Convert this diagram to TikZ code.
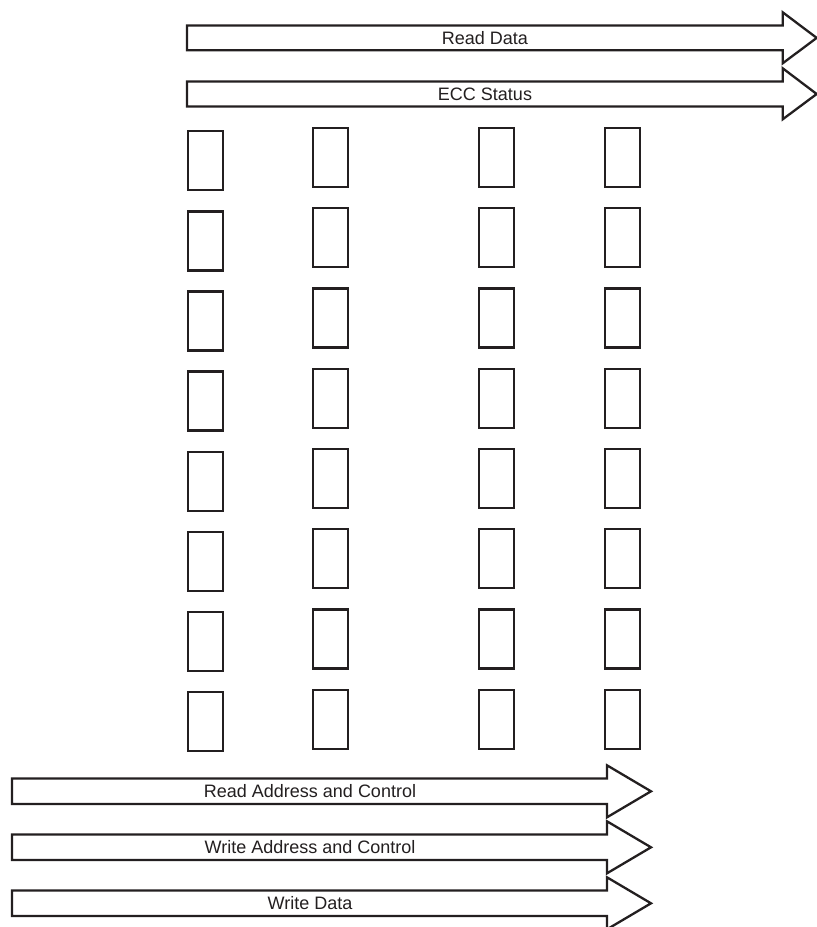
\documentclass[tikz,border=0pt]{standalone}
\usepackage{fontspec}
\setmainfont{Liberation Sans}
\definecolor{ink}{HTML}{231F20}
\begin{document}
\begin{tikzpicture}[x=1pt,y=-1pt,
  cell/.style={draw=ink,line width=2.3pt,minimum width=35pt,minimum height=59pt,inner sep=0pt,outer sep=0pt},
  bus/.style={draw=ink,line width=2.3pt,line join=miter,fill=white},
  buslabel/.style={font=\fontsize{18}{20}\selectfont,text=ink,inner sep=0pt}]
\useasboundingbox (0,0) rectangle (817,927);
% top buses
\draw[bus] (187,25.5) -- (782.7,25.5) -- (782.7,12.3) -- (816.7,37.9) -- (782.7,63.3) -- (782.7,50.2) -- (187,50.2) -- cycle;
\node[buslabel] (rd) at (485,37.9) {Read Data};
\draw[bus] (187,81.5) -- (782.7,81.5) -- (782.7,68.3) -- (816.7,94) -- (782.7,119.3) -- (782.7,106.5) -- (187,106.5) -- cycle;
\node[buslabel] (ecc) at (485,94) {ECC Status};
% cells
\foreach \r in {0,...,7}{
  \node[cell] (a\r) at (205.3,{160.8+80.1*\r}) {};
  \node[cell] (b\r) at (330.8,{157.3+80.3*\r}) {};
  \node[cell] (c\r) at (496.8,{157.3+80.3*\r}) {};
  \node[cell] (d\r) at (622.5,{157.3+80.3*\r}) {};
}
% bottom buses
\draw[bus] (12,778.5) -- (607,778.5) -- (607,765.3) -- (651,791.3) -- (607,817.3) -- (607,804) -- (12,804) -- cycle;
\node[buslabel] (rac) at (310,791.3) {Read Address and Control};
\draw[bus] (12,834.5) -- (607,834.5) -- (607,821.3) -- (651,847.3) -- (607,873.3) -- (607,860) -- (12,860) -- cycle;
\node[buslabel] (wac) at (310,847.3) {Write Address and Control};
\draw[bus] (12,890.5) -- (607,890.5) -- (607,877.3) -- (651,903.3) -- (607,929.3) -- (607,916) -- (12,916) -- cycle;
\node[buslabel] (wd) at (310,903.3) {Write Data};
\end{tikzpicture}
\end{document}
